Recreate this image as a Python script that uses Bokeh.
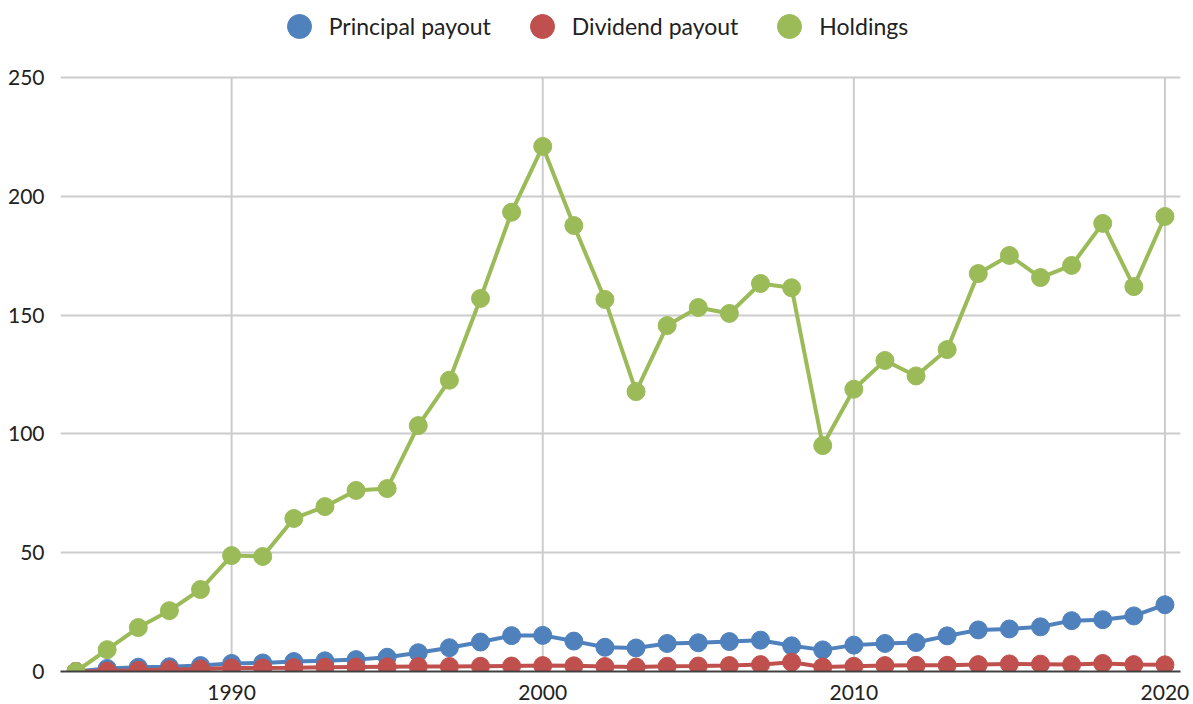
from bokeh.plotting import figure
from bokeh.models import Range1d, FixedTicker, Legend, LegendItem
from bokeh.embed import file_html
from bokeh.resources import INLINE

years = list(range(1985, 2021))
principal = [0, 1.3, 1.8, 2.0, 2.5, 3.4, 3.6, 4.2, 4.5, 5.0, 6.0, 7.9, 10.0, 12.4, 15.1, 15.2, 12.8,
             10.2, 9.9, 11.8, 12.1, 12.6, 13.2, 10.8, 9.1, 11.1, 11.8, 12.2, 15.0, 17.5, 17.9, 18.8,
             21.4, 21.8, 23.4, 28.1]
dividend = [0, 0.2, 0.5, 0.8, 1.1, 1.5, 1.5, 1.6, 1.8, 1.9, 2.0, 2.1, 2.1, 2.2, 2.3, 2.5, 2.4,
            2.1, 1.9, 2.2, 2.3, 2.5, 2.9, 3.9, 1.9, 2.2, 2.5, 2.6, 2.6, 2.9, 3.2, 3.1,
            2.9, 3.4, 2.9, 2.8]
holdings = [0, 9.2, 18.5, 25.6, 34.5, 48.8, 48.4, 64.4, 69.4, 76.2, 77.0, 103.5, 122.6, 157.0,
            193.3, 221.0, 187.7, 156.6, 117.8, 145.6, 153.2, 150.7, 163.3, 161.5, 95.1, 118.8,
            130.9, 124.4, 135.5, 167.5, 175.1, 165.8, 170.9, 188.6, 162.0, 191.5]

series_names = ["Principal payout", "Dividend payout", "Holdings"]
series_values = [principal, dividend, holdings]
colors = ["#4F81BD", "#C0504D", "#9BBB59"]
x_ticks = [1990, 2000, 2010, 2020]
y_ticks = [0, 50, 100, 150, 200, 250]
y_min, y_max = 0, 250

FONT = "Lato"
TXT = "#222222"

# frame spans the full height; the extra headroom above 250 holds the legend
FRAME_H = 671
PX_PER_UNIT = 594 / (y_max - y_min)
y_top = y_min + FRAME_H / PX_PER_UNIT

p = figure(width=1192, height=703, output_backend="svg", toolbar_location=None,
           x_range=Range1d(1984.5, 2020.5), y_range=Range1d(y_min, y_top),
           min_border_left=60, min_border_right=12, min_border_top=0, min_border_bottom=32)
p.outline_line_color = None
p.background_fill_color = "white"

p.xaxis.ticker = FixedTicker(ticks=x_ticks)
p.yaxis.ticker = FixedTicker(ticks=y_ticks)
for ax in (p.xaxis, p.yaxis):
    ax.major_tick_line_color = None
    ax.minor_tick_line_color = None
    ax.major_label_text_font = FONT
    ax.major_label_text_font_size = "21px"
    ax.major_label_text_color = TXT
p.xaxis.axis_line_color = "#404040"
p.xaxis.axis_line_width = 2
p.xaxis.major_label_standoff = 7
p.yaxis.axis_line_color = None
p.yaxis.major_label_standoff = 10

p.xgrid.visible = False
p.ygrid.ticker = FixedTicker(ticks=y_ticks)
p.ygrid.grid_line_color = "#CCCCCC"
p.ygrid.grid_line_width = 2
# vertical grid lines only span the value range 0..250
p.segment(x0=x_ticks, x1=x_ticks, y0=[y_min] * len(x_ticks), y1=[y_max] * len(x_ticks),
          line_color="#CCCCCC", line_width=2, level="underlay")

items = []
for name, vals, c in zip(series_names, series_values, colors):
    p.line(years, vals, line_color=c, line_width=4)
    r = p.scatter(years, vals, size=18, fill_color=c, line_color=c)
    items.append(LegendItem(label=name, renderers=[r]))

legend = Legend(items=items, orientation="horizontal", location=(208.7, 615.3),
                glyph_width=60, glyph_height=60, label_standoff=0, spacing=21,
                padding=0, margin=0, border_line_color=None, background_fill_alpha=0,
                label_text_font=FONT, label_text_font_size="23px", label_text_color=TXT)
p.add_layout(legend, "center")

open("out.html", "w").write(file_html(p, INLINE))
